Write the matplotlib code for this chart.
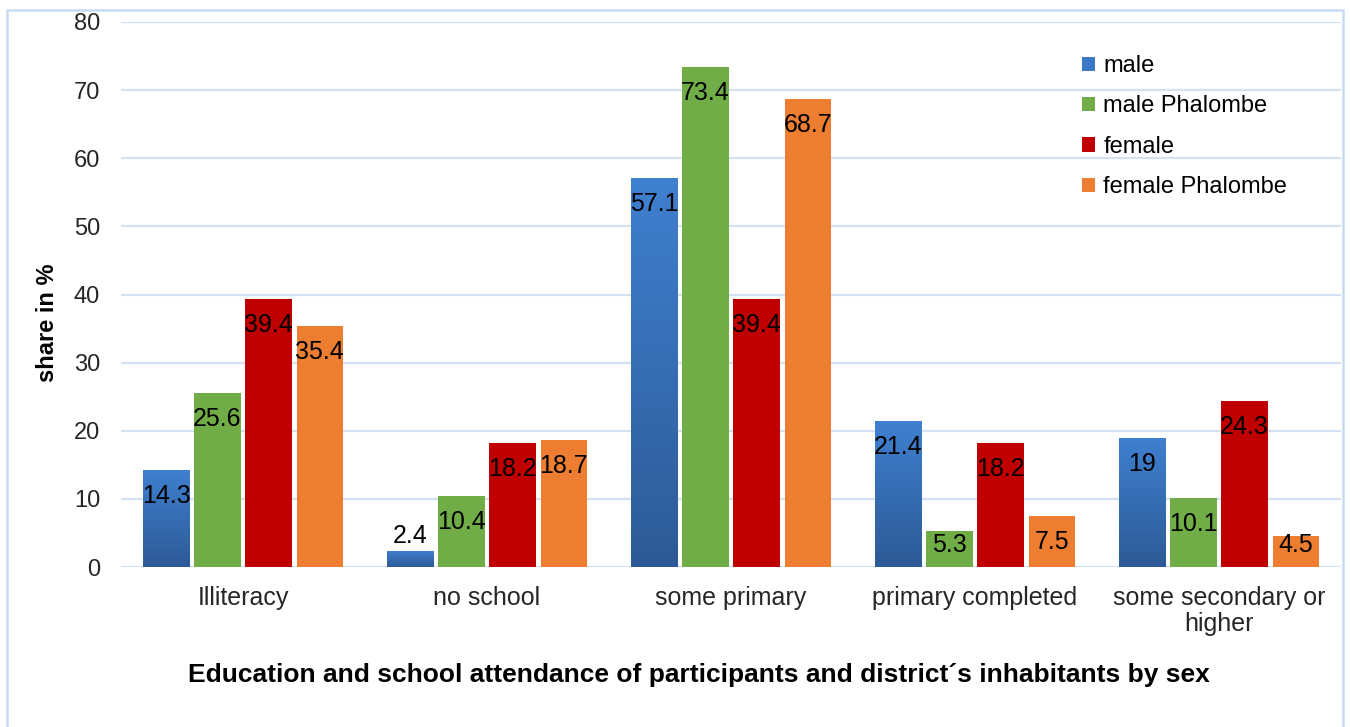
import numpy as np
import matplotlib
matplotlib.use("Agg")
import matplotlib.pyplot as plt
from matplotlib.patches import Patch, Rectangle
from matplotlib.colors import LinearSegmentedColormap

plt.rcParams['font.family'] = ['Liberation Sans', 'DejaVu Sans']

categories = ["Illiteracy", "no school", "some primary", "primary completed",
              "some secondary or\nhigher"]
series_names = ["male", "male Phalombe", "female", "female Phalombe"]
male = [14.3, 2.4, 57.1, 21.4, 19]
male_phalombe = [25.6, 10.4, 73.4, 5.3, 10.1]
female = [39.4, 18.2, 39.4, 18.2, 24.3]
female_phalombe = [35.4, 18.7, 68.7, 7.5, 4.5]
yticks = [0, 10, 20, 30, 40, 50, 60, 70, 80]

colors = ["#3b78c8", "#70ad47", "#c00000", "#ed7d31"]
grid_col = "#d3e1f2"
blue_grad = LinearSegmentedColormap.from_list("blue_grad", ["#2d5a96", "#3f80d0"])

fig = plt.figure(figsize=(13.5, 7.27), dpi=100)
ax = fig.add_axes([121 / 1350, 1 - 567 / 727, 1220 / 1350, 545 / 727])

x = np.arange(len(categories))
width = 0.19
step = 0.21
px_per_unit = 545 / 80

all_series = [male, male_phalombe, female, female_phalombe]
for i, vals in enumerate(all_series):
    pos = x + (i - 1.5) * step
    bars = ax.bar(pos, vals, width, color=colors[i], edgecolor="none", zorder=2)
    if i == 0:
        # vertical gradient on the first series
        grad = np.linspace(0, 1, 256).reshape(-1, 1)
        for b in bars:
            im = ax.imshow(grad, cmap=blue_grad, origin="lower", aspect="auto",
                           extent=[b.get_x(), b.get_x() + b.get_width(), 0, b.get_height()],
                           zorder=2.5)
            im.set_clip_path(b)
            b.set_facecolor("none")
    for p, v in zip(pos, vals):
        lab = f"{v:g}"
        if v * px_per_unit < 20:
            ypos = v + 15 / px_per_unit
        else:
            ypos = max(v - 26 / px_per_unit, 22 / px_per_unit)
        ax.text(p, ypos, lab, ha="center", va="center", fontsize=18,
                color="black", zorder=4)

ax.set_xlim(-0.5, 4.5)
ax.set_ylim(0, 80)
ax.set_yticks(yticks)
ax.set_xticks(x)
ax.set_xticklabels(categories, fontsize=18, color="#262626", linespacing=1.1)
ax.tick_params(axis="y", length=0, pad=15, labelsize=17, labelcolor="#262626")
ax.tick_params(axis="x", length=0, pad=14)
ax.yaxis.grid(True, color=grid_col, linewidth=1.6, zorder=0)
ax.set_axisbelow(True)
for s in ax.spines.values():
    s.set_visible(False)

fig.text(47 / 1350, 1 - 323 / 727, "share in %", rotation=90, ha="center", va="center",
         fontsize=17, fontweight="bold", color="black")

handles = [Patch(facecolor=c, edgecolor="none") for c in colors]
ax.legend(handles, series_names, loc="upper left", bbox_to_anchor=(1082 / 1350, 1 - 55 / 727),
          bbox_transform=fig.transFigure, frameon=False, fontsize=17,
          handlelength=0.55, handleheight=0.55, handletextpad=0.35, labelspacing=0.78,
          borderpad=0, borderaxespad=0)

fig.text(699 / 1350, 1 - 675 / 727,
         "Education and school attendance of participants and district\u00b4s inhabitants by sex",
         ha="center", va="center", fontsize=19, fontweight="bold", color="black")

fig.patches.append(Rectangle((7 / 1350, -0.01), 1336 / 1350, 1 - 10 / 727 + 0.01,
                             transform=fig.transFigure, fill=False,
                             edgecolor="#c9dbf0", linewidth=1.8))

fig.savefig("out.png", dpi=100)
